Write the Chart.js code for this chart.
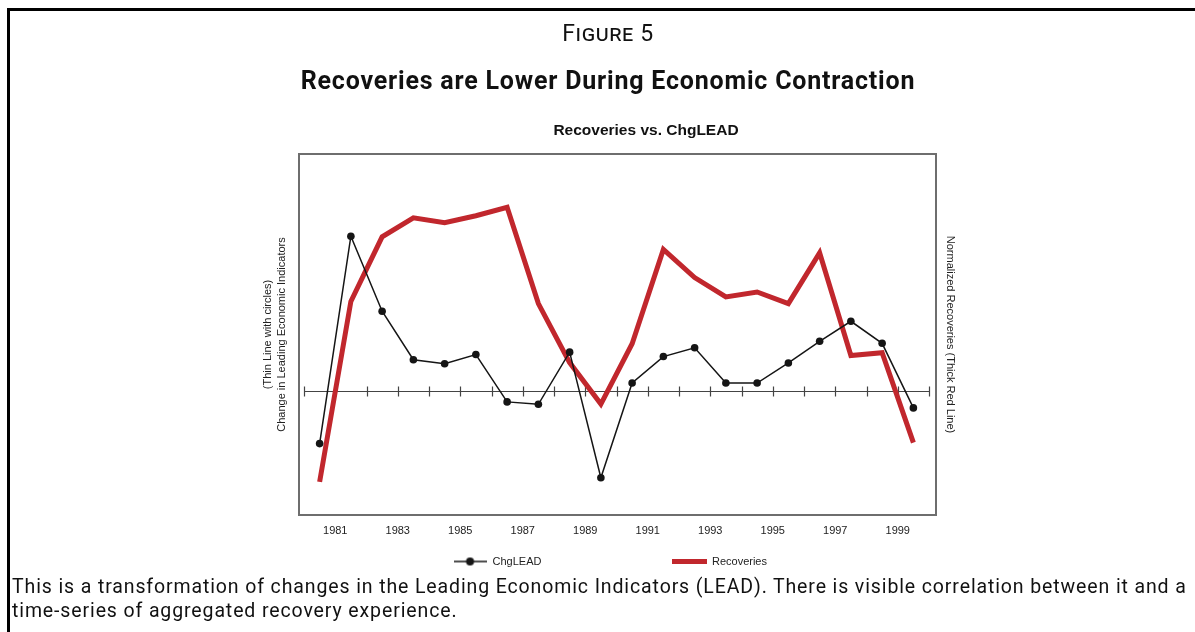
<!DOCTYPE html>
<html>
<head>
<meta charset="utf-8">
<script src="https://cdn.jsdelivr.net/npm/chart.js@4.4.0/dist/chart.umd.min.js"></script>
<style>
  body { margin: 0; width: 1195px; height: 632px; overflow: hidden; position: relative; background: #fff; font-family: Roboto, sans-serif; color: #111; }
  #frame { position: absolute; left: 7px; top: 8px; width: 1200px; height: 640px; border-left: 3px solid #000; border-top: 3px solid #000; }
  #chart { position: absolute; left: 0; top: 0; }
  .head { position: absolute; text-align: center; white-space: nowrap; }
  #fig { left: 408px; width: 400px; top: 19px; font-size: 23px; letter-spacing: 0.6px; font-variant: small-caps; line-height: 30px; }
  #title { left: 258px; width: 700px; top: 66px; font-size: 25px; letter-spacing: 0.8px; font-weight: bold; line-height: 30px; }
  #sub { left: 496px; width: 300px; top: 120px; font-size: 15.5px; font-weight: bold; line-height: 20px; font-family: 'Liberation Sans Narrow', 'Arial Narrow', sans-serif; }
  #caption { position: absolute; left: 12px; top: 575px; width: 1183px; font-size: 19.5px; letter-spacing: 0.88px; line-height: 24px; }
</style>
</head>
<body>
<div id="frame"></div>
<canvas id="chart" width="1195" height="577"></canvas>
<div class="head" id="fig">Figure 5</div>
<div class="head" id="title">Recoveries are Lower During Economic Contraction</div>
<div class="head" id="sub">Recoveries vs. ChgLEAD</div>
<div id="caption">This is a transformation of changes in the Leading Economic Indicators (LEAD). There is visible correlation between it and a time-series of aggregated recovery experience.</div>
<script>
// mid-year positions of each observation
var periods = [1980.5, 1981.5, 1982.5, 1983.5, 1984.5, 1985.5, 1986.5, 1987.5, 1988.5, 1989.5,
               1990.5, 1991.5, 1992.5, 1993.5, 1994.5, 1995.5, 1996.5, 1997.5, 1998.5, 1999.5];
var chgLead = [-1.32, 3.85, 1.98, 0.77, 0.67, 0.90, -0.28, -0.34, 0.96, -2.17,
               0.19, 0.85, 1.07, 0.19, 0.19, 0.69, 1.23, 1.73, 1.18, -0.43];
var recoveries = [-0.455, 0.445, 0.767, 0.862, 0.837, 0.872, 0.914, 0.434, 0.14, -0.067,
                  0.234, 0.704, 0.564, 0.467, 0.492, 0.434, 0.687, 0.175, 0.189, -0.259];
var tickYears = [1981, 1983, 1985, 1987, 1989, 1991, 1993, 1995, 1997, 1999];
var axisStart = 1980, axisEnd = 2000;

var narrow = "'Liberation Sans Narrow', 'Arial Narrow', sans-serif";
var red = '#c1272d';
var ink = '#151515';

function lineDotSymbol() {
    var c = document.createElement('canvas');
    c.width = 33; c.height = 10;
    var g = c.getContext('2d');
    g.strokeStyle = ink; g.lineWidth = 1.5;
    g.beginPath(); g.moveTo(0, 5); g.lineTo(33, 5); g.stroke();
    g.fillStyle = ink;
    g.beginPath(); g.arc(16.5, 5, 4, 0, Math.PI * 2); g.fill();
    return c;
}
function barSymbol() {
    var c = document.createElement('canvas');
    c.width = 35; c.height = 5;
    var g = c.getContext('2d');
    g.fillStyle = red; g.fillRect(0, 0, 35, 5);
    return c;
}

// frame round the plot and the zero axis with yearly ticks
var zeroAxis = {
    id: 'zeroAxis',
    beforeDatasetsDraw: function(chart) {
        var ctx = chart.ctx, area = chart.chartArea;
        var x = chart.scales.x, y = chart.scales.y;
        ctx.save();
        ctx.strokeStyle = '#6e6e6e';
        ctx.lineWidth = 2;
        ctx.strokeRect(area.left, area.top, area.right - area.left, area.bottom - area.top);
        var y0 = Math.round(y.getPixelForValue(0)) + 0.5;
        ctx.strokeStyle = '#444';
        ctx.lineWidth = 1.2;
        ctx.beginPath();
        ctx.moveTo(x.getPixelForValue(axisStart), y0);
        ctx.lineTo(x.getPixelForValue(axisEnd), y0);
        for (var yr = axisStart; yr <= axisEnd; yr++) {
            var px = Math.round(x.getPixelForValue(yr)) + 0.5;
            ctx.moveTo(px, y0 - 5);
            ctx.lineTo(px, y0 + 5);
        }
        ctx.stroke();
        ctx.restore();
    }
};

var ctx = document.getElementById('chart').getContext('2d');
var chart = new Chart(ctx, {
    type: 'line',
    data: {
        datasets: [{
            label: 'ChgLEAD',
            data: periods.map(function(p, i) { return {x: p, y: chgLead[i]}; }),
            yAxisID: 'y',
            borderColor: ink,
            backgroundColor: ink,
            borderWidth: 1.5,
            pointRadius: 3.8,
            pointBorderWidth: 0,
            pointBackgroundColor: ink,
            tension: 0
        }, {
            label: 'Recoveries',
            data: periods.map(function(p, i) { return {x: p, y: recoveries[i]}; }),
            yAxisID: 'y1',
            borderColor: red,
            backgroundColor: red,
            borderWidth: 5,
            pointRadius: 0,
            tension: 0
        }]
    },
    options: {
        responsive: false,
        animation: false,
        layout: { padding: { top: 154, left: 25, right: 0, bottom: 0 } },
        plugins: {
            tooltip: { enabled: false },
            legend: {
                position: 'bottom',
                labels: {
                    usePointStyle: true,
                    pointStyleWidth: 34,
                    padding: 10,
                    color: '#222',
                    font: { family: narrow, size: 11 },
                    generateLabels: function(chart) {
                        var items = Chart.defaults.plugins.legend.labels.generateLabels(chart);
                        items[0].pointStyle = lineDotSymbol();
                        items[0].text = items[0].text + '\u2003\u2003\u2003\u2003\u2003\u2003\u2003\u2003\u2003\u2003\u2003';
                        items[1].pointStyle = barSymbol();
                        return items;
                    }
                }
            }
        },
        scales: {
            x: {
                type: 'linear',
                min: axisStart - 0.16,
                max: axisEnd + 0.224,
                grid: { display: false, drawTicks: false },
                border: { display: false },
                afterBuildTicks: function(scale) {
                    scale.ticks = tickYears.map(function(v) { return {value: v}; });
                },
                afterFit: function(scale) { scale.height = 31; },
                ticks: {
                    padding: 9,
                    maxRotation: 0,
                    color: '#222',
                    font: { family: narrow, size: 11 },
                    callback: function(v) { return String(v); }
                }
            },
            y: {
                position: 'left',
                min: -3.1,
                max: 5.9,
                ticks: { display: false },
                grid: { display: false },
                border: { display: false },
                afterFit: function(scale) { scale.width = 274; },
                title: {
                    display: true,
                    text: ['(Thin Line with circles)', 'Change in Leading Economic Indicators'],
                    color: '#222',
                    font: { family: narrow, size: 11, lineHeight: 1.3 },
                    padding: { top: 236, bottom: 0 }
                }
            },
            y1: {
                position: 'right',
                min: -0.62,
                max: 1.18,
                ticks: { display: false },
                grid: { display: false },
                border: { display: false },
                afterFit: function(scale) { scale.width = 259; },
                title: {
                    display: true,
                    text: 'Normalized Recoveries (Thick Red Line)',
                    color: '#222',
                    font: { family: narrow, size: 11, lineHeight: 1.2 },
                    padding: { top: 238, bottom: 0 }
                }
            }
        }
    },
    plugins: [zeroAxis]
});
</script>
</body>
</html>
